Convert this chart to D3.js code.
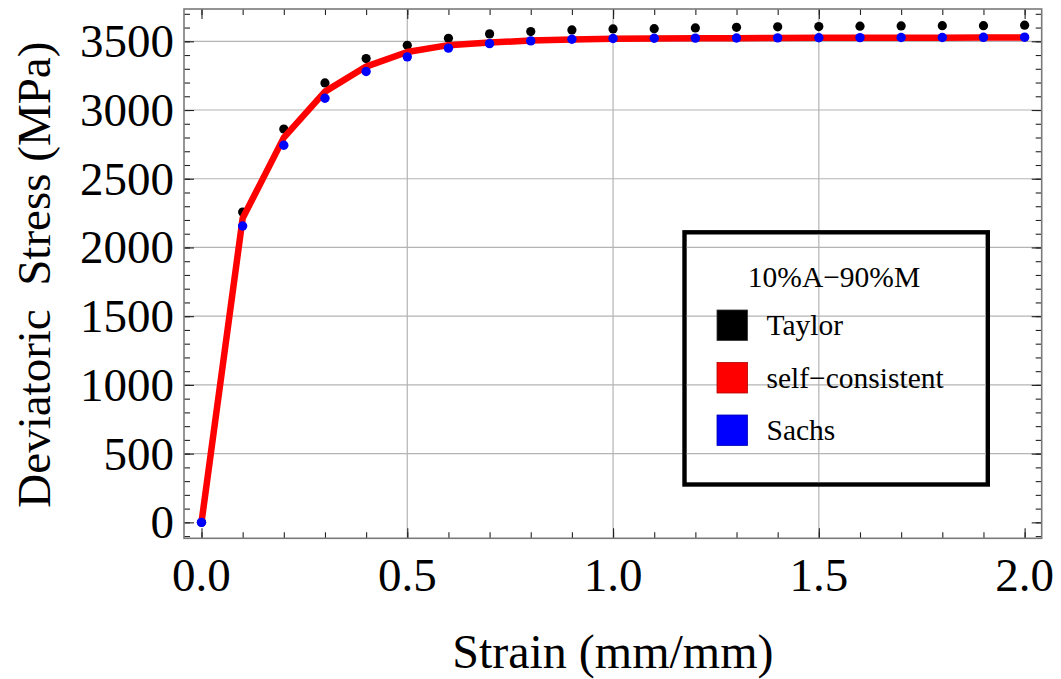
<!DOCTYPE html>
<html>
<head>
<meta charset="utf-8">
<script src="https://cdn.jsdelivr.net/npm/d3@7"></script>
<style>
  html, body { margin: 0; padding: 0; background: #fff; }
  svg text { font-family: "Liberation Serif", "Times New Roman", serif; fill: #000; }
</style>
</head>
<body>
<svg id="chart" width="1061" height="679"></svg>
<script>
// Stress–strain response of the 10%A–90%M mixture under three homogenisation schemes
const strain = [0, 0.1, 0.2, 0.3, 0.4, 0.5, 0.6, 0.7, 0.8, 0.9, 1.0,
                1.1, 1.2, 1.3, 1.4, 1.5, 1.6, 1.7, 1.8, 1.9, 2.0];
const taylor = [0, 2258, 2862, 3197, 3374, 3471, 3522, 3554, 3571, 3583, 3590,
                3592, 3597, 3602, 3605, 3607, 3610, 3612, 3614, 3614, 3617];
const selfConsistent = [0, 2212, 2799, 3134, 3316, 3422, 3472, 3491, 3505, 3513, 3518,
                        3520, 3522, 3523, 3524, 3525, 3525, 3526, 3526, 3527, 3527];
const sachs = [0, 2156, 2744, 3086, 3280, 3387, 3450, 3483, 3503, 3515, 3520,
               3522, 3523, 3524, 3525, 3526, 3527, 3528, 3528, 3529, 3530];

const xTicks = [0, 0.5, 1.0, 1.5, 2.0];
const yTicks = [0, 500, 1000, 1500, 2000, 2500, 3000, 3500];
const xGrid = [0.5, 1.0, 1.5];
const yGrid = [500, 1000, 1500, 2000, 2500, 3000, 3500];
const xMinor = d3.range(0, 21).map(i => i / 10);
const yMinor = d3.range(-1, 38).map(i => i * 100);

const legendTitle = "10%A\u221290%M";
const legendItems = [
  { label: "Taylor", color: "#000000", edge: "#333333" },
  { label: "self\u2212consistent", color: "#ff0000", edge: "#b00000" },
  { label: "Sachs", color: "#0000ff", edge: "#0000b0" }
];

const svg = d3.select("#chart");
const frame = { left: 184, right: 1041.7, top: 9, bottom: 538.3 };

const x = d3.scaleLinear().domain([-0.0425, 2.0415]).range([frame.left, frame.right]);
const y = d3.scaleLinear().domain([-116, 3735]).range([frame.bottom, frame.top]);

// grid lines
const grid = svg.append("g").attr("stroke", "#b4b4b4").attr("stroke-width", 1.2);
grid.selectAll("line.gx").data(xGrid).join("line")
  .attr("x1", d => x(d)).attr("x2", d => x(d))
  .attr("y1", frame.top).attr("y2", frame.bottom);
grid.selectAll("line.gy").data(yGrid).join("line")
  .attr("x1", frame.left).attr("x2", frame.right)
  .attr("y1", d => y(d)).attr("y2", d => y(d));

// frame ticks, pointing inward on all four sides
const W = frame.right - frame.left, H = frame.bottom - frame.top;
function tickAxis(gen, transform) {
  return svg.append("g").attr("transform", transform).call(gen)
    .call(g => g.select(".domain").remove())
    .call(g => g.selectAll("text").remove())
    .call(g => g.selectAll("line").attr("stroke", "#222").attr("stroke-width", 1.1));
}
const majorLen = 10, minorLen = 6;
tickAxis(d3.axisBottom(x).tickValues(xMinor).tickSize(-minorLen), `translate(0,${frame.bottom})`);
tickAxis(d3.axisBottom(x).tickValues(xTicks).tickSize(-majorLen), `translate(0,${frame.bottom})`);
tickAxis(d3.axisTop(x).tickValues(xMinor).tickSize(-minorLen), `translate(0,${frame.top})`);
tickAxis(d3.axisTop(x).tickValues(xTicks).tickSize(-majorLen), `translate(0,${frame.top})`);
tickAxis(d3.axisLeft(y).tickValues(yMinor).tickSize(-minorLen), `translate(${frame.left},0)`);
tickAxis(d3.axisLeft(y).tickValues(yTicks).tickSize(-majorLen), `translate(${frame.left},0)`);
tickAxis(d3.axisRight(y).tickValues(yMinor).tickSize(-minorLen), `translate(${frame.right},0)`);
tickAxis(d3.axisRight(y).tickValues(yTicks).tickSize(-majorLen), `translate(${frame.right},0)`);

svg.append("rect")
  .attr("x", frame.left).attr("y", frame.top).attr("width", W).attr("height", H)
  .attr("fill", "none").attr("stroke", "#7a7a7a").attr("stroke-width", 1.6);

// tick labels
const tickFont = 47;
svg.append("g").selectAll("text").data(xTicks).join("text")
  .attr("x", d => x(d)).attr("y", 591)
  .attr("text-anchor", "middle").attr("font-size", tickFont)
  .text(d => d3.format(".1f")(d));
svg.append("g").selectAll("text").data(yTicks).join("text")
  .attr("x", 174).attr("y", d => y(d) + 16)
  .attr("text-anchor", "end").attr("font-size", tickFont)
  .text(d => d);

// axis titles
svg.append("text")
  .attr("x", (frame.left + frame.right) / 2).attr("y", 668)
  .attr("text-anchor", "middle").attr("font-size", 48)
  .text("Strain (mm/mm)");
svg.append("text")
  .attr("transform", `translate(50,${(frame.top + frame.bottom) / 2 + 1}) rotate(-90)`)
  .attr("text-anchor", "middle").attr("font-size", 47)
  .style("white-space", "pre")
  .text("Deviatoric  Stress (MPa)");

// series
const pts = (vals) => strain.map((s, i) => [s, vals[i]]);
const plot = svg.append("g");
plot.selectAll("circle.taylor").data(pts(taylor)).join("circle")
  .attr("cx", d => x(d[0])).attr("cy", d => y(d[1])).attr("r", 4.6).attr("fill", "#000");
plot.append("path")
  .datum(pts(selfConsistent))
  .attr("d", d3.line().x(d => x(d[0])).y(d => y(d[1])))
  .attr("fill", "none").attr("stroke", "#ff0000").attr("stroke-width", 6.5)
  .attr("stroke-linejoin", "round");
plot.selectAll("circle.sachs").data(pts(sachs)).join("circle")
  .attr("cx", d => x(d[0])).attr("cy", d => y(d[1])).attr("r", 4.7).attr("fill", "#0000ff");

// legend
const lg = svg.append("g");
lg.append("rect")
  .attr("x", 684.5).attr("y", 232.3).attr("width", 303.3).attr("height", 252.2)
  .attr("fill", "#fff").attr("stroke", "#000").attr("stroke-width", 4.4);
// grid lines seen through the legend
lg.selectAll("line.gx").data(xGrid.filter(d => x(d) > 686 && x(d) < 986)).join("line")
  .attr("x1", d => x(d)).attr("x2", d => x(d)).attr("y1", 234.5).attr("y2", 482.3)
  .attr("stroke", "#b4b4b4").attr("stroke-width", 1.2);
lg.selectAll("line.gy").data(yGrid.filter(d => y(d) > 235 && y(d) < 482)).join("line")
  .attr("x1", 686.7).attr("x2", 985.6).attr("y1", d => y(d)).attr("y2", d => y(d))
  .attr("stroke", "#b4b4b4").attr("stroke-width", 1.2);
lg.append("text")
  .attr("x", 834).attr("y", 286.7).attr("text-anchor", "middle").attr("font-size", 29.5)
  .text(legendTitle);
const rows = lg.selectAll("g.item").data(legendItems).join("g")
  .attr("transform", (d, i) => `translate(0,${i * 52.5})`);
rows.append("rect")
  .attr("x", 717).attr("y", 310).attr("width", 30.5).attr("height", 30.5)
  .attr("fill", d => d.color).attr("stroke", d => d.edge).attr("stroke-width", 0.8);
rows.append("text")
  .attr("x", 766.5).attr("y", 335).attr("font-size", 29.5)
  .text(d => d.label);
</script>
</body>
</html>
